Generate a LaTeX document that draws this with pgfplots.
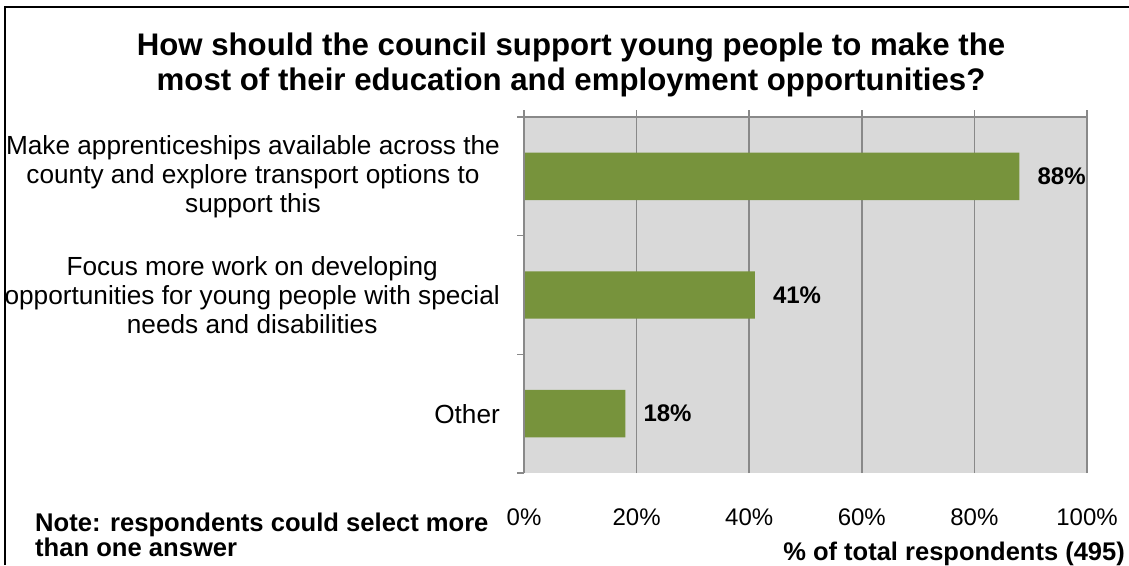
\documentclass[border=0pt]{standalone}
\usepackage{fontspec}
\setmainfont{Liberation Sans}
\usepackage{pgfplots}
\pgfplotsset{compat=1.18}
\definecolor{bargreen}{HTML}{77933C}
\definecolor{plotbg}{HTML}{D9D9D9}
\definecolor{gridgray}{HTML}{898989}
\begin{document}
\begin{tikzpicture}[x=1pt,y=1pt]
\useasboundingbox (0,0) rectangle (1129,565);
\draw[black, line width=1.5pt] (5,0) -- (5,558) -- (1129,558);
\node[font=\fontsize{31.2}{35}\bfseries\selectfont, anchor=base, inner sep=0pt] at (571,509) {How should the council support young people to make the};
\node[font=\fontsize{31.2}{35}\bfseries\selectfont, anchor=base, inner sep=0pt] at (571,474) {most of their education and employment opportunities?};
\node[font=\fontsize{25.6}{25}\bfseries\selectfont, anchor=base west, inner sep=0pt] at (35,34) {Note: respondents could select more};
\node[font=\fontsize{25.6}{25}\bfseries\selectfont, anchor=base west, inner sep=0pt] at (35,9) {than one answer};
\node[font=\fontsize{25.5}{25}\bfseries\selectfont, anchor=base east, inner sep=0pt] at (1125,5) {\% of total respondents (495)};
\begin{axis}[
  at={(524pt,92pt)}, anchor=south west,
  scale only axis, width=563pt, height=356pt,
  xmin=0, xmax=100, ymin=-0.5, ymax=2.5,
  xbar, bar width=0.4,
  axis line style={draw=none},
  major tick length=0pt,
  xtick={0,20,40,60,80,100},
  xticklabels={0\%,20\%,40\%,60\%,80\%,100\%},
  ytick={0,1,2},
  yticklabels={Other, {Focus more work on developing\\opportunities for young people with special\\needs and disabilities}, {Make apprenticeships available across the\\county and explore transport options to\\support this}},
  y tick label style={align=center, font=\fontsize{26.2}{29}\selectfont, anchor=east, inner sep=0pt, xshift=-24pt},
  x tick label style={font=\fontsize{24}{28}\selectfont, anchor=base, inner sep=0pt, yshift=-52pt},
  xmajorgrids, grid style={gridgray, line width=1.5pt},
  axis background/.style={fill=plotbg},
  /pgf/number format/assume math mode=true,
  point meta=x,
  nodes near coords={\pgfmathprintnumber{\pgfplotspointmeta}\%},
  nodes near coords style={font=\fontsize{24}{28}\bfseries\selectfont, anchor=west, inner sep=0pt, xshift=18pt},
  clip=false,
]
\addplot[fill=bargreen, draw=none] coordinates {(18,0) (41,1) (88,2)};
\draw[gridgray, line width=1.5pt] (rel axis cs:0,0) -- (rel axis cs:0,1) -- (rel axis cs:1,1);
\draw[gridgray, line width=1.5pt] (axis cs:0,-0.5) -- ++(-7pt,0pt);
\draw[gridgray, line width=1.5pt] (axis cs:0,0.5) -- ++(-7pt,0pt);
\draw[gridgray, line width=1.5pt] (axis cs:0,1.5) -- ++(-7pt,0pt);
\draw[gridgray, line width=1.5pt] (axis cs:0,2.5) -- ++(-7pt,0pt);
\draw[gridgray, line width=1.5pt] (axis cs:0,2.5) -- ++(0pt,7pt);
\draw[gridgray, line width=1.5pt] (axis cs:20,2.5) -- ++(0pt,7pt);
\draw[gridgray, line width=1.5pt] (axis cs:40,2.5) -- ++(0pt,7pt);
\draw[gridgray, line width=1.5pt] (axis cs:60,2.5) -- ++(0pt,7pt);
\draw[gridgray, line width=1.5pt] (axis cs:80,2.5) -- ++(0pt,7pt);
\draw[gridgray, line width=1.5pt] (axis cs:100,2.5) -- ++(0pt,7pt);
\end{axis}
\end{tikzpicture}
\end{document}
